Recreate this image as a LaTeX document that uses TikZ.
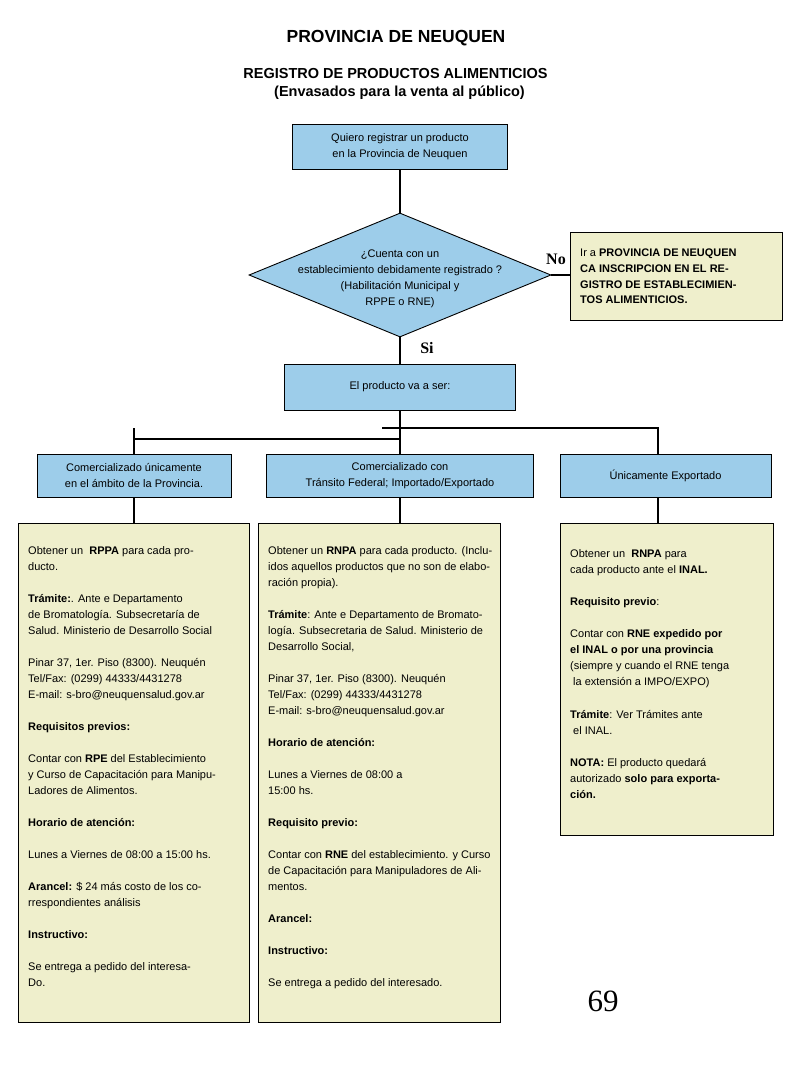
\documentclass[tikz,border=0pt]{standalone}
\usepackage{fontspec}
\setmainfont{Liberation Sans}
\newfontfamily\seriffont{Liberation Serif}
\usetikzlibrary{shapes.geometric,calc}
\definecolor{boxblue}{HTML}{9DCDEA}
\definecolor{boxyel}{HTML}{EFEFCC}
\begin{document}
\begin{tikzpicture}[x=1pt,y=-1pt,
  every node/.style={font=\fontsize{11}{16}\selectfont},
  bluebox/.style={draw=black, fill=boxblue, line width=0.9pt, align=center, inner sep=0pt},
  yelbox/.style={draw=black, fill=boxyel, line width=0.9pt, inner sep=0pt},
  conn/.style={draw=black, line width=1.1pt},
  bodytext/.style={anchor=north west, align=left, inner sep=0pt, font=\fontsize{11}{16}\selectfont},
  titletext/.style={anchor=base, inner sep=0pt, font=\bfseries\fontsize{17.5}{20}\selectfont},
  subtext/.style={anchor=base, inner sep=0pt, font=\bfseries\fontsize{14.5}{18}\selectfont},
  answer/.style={anchor=base, inner sep=0pt, font=\seriffont\bfseries\fontsize{16}{18}\selectfont}]
\useasboundingbox (0,0) rectangle (800,1066);
\fill[white] (0,0) rectangle (800,1066);

% titles
\node[titletext] (title) at (396,42) {PROVINCIA DE NEUQUEN};
\node[subtext] (sub1) at (395.5,78) {REGISTRO DE PRODUCTOS ALIMENTICIOS};
\node[subtext] (sub2) at (399.5,96) {(Envasados para la venta al público)};

% top box
\node[bluebox, minimum width=215, minimum height=45, font=\fontsize{11}{16.5}\selectfont] (b1) at (400,146.5)
  {Quiero registrar un producto\\en la Provincia de Neuquen};

% diamond
\node[diamond, draw=black, fill=boxblue, line width=0.9pt, minimum width=302, minimum height=124, inner sep=0pt] (d) at (400,275) {};
\node[align=center, inner sep=0pt] (dtext) at (400,279)
  {¿Cuenta con un\\establecimiento debidamente registrado ?\\(Habilitación Municipal y\\RPPE o RNE)};

% No box
\node[yelbox, minimum width=212, minimum height=88] (nob) at (676,276) {};
\node[bodytext, font=\fontsize{11}{15.7}\selectfont] (nobtext) at (580,249)
  {Ir a \textbf{PROVINCIA DE NEUQUEN}\\\textbf{CA INSCRIPCION EN EL RE-}\\\textbf{GISTRO DE ESTABLECIMIEN-}\\\textbf{TOS ALIMENTICIOS.}};

\node[answer] (no) at (556,264) {No};
\node[answer] (si) at (427,353) {Si};

% middle box
\node[bluebox, minimum width=231, minimum height=46] (b3) at (400,387) {El producto va a ser:};

% three options
\node[bluebox, minimum width=194, minimum height=43] (b4) at (134,475.5)
  {Comercializado únicamente\\en el ámbito de la Provincia.};
\node[bluebox, minimum width=267, minimum height=43] (b5) at (400,475.5)
  {Comercializado con\\Tránsito Federal; Importado/Exportado};
\node[bluebox, minimum width=211, minimum height=43] (b6) at (665.5,475.5)
  {Únicamente Exportado};

% yellow detail boxes
\node[yelbox, minimum width=231, minimum height=499] (y1) at (133.5,772.5) {};
\node[yelbox, minimum width=242, minimum height=499] (y2) at (379,772.5) {};
\node[yelbox, minimum width=213, minimum height=312] (y3) at (666.5,679) {};

\node[bodytext] (y1text) at (28,546)
  {Obtener un\ \ \textbf{RPPA} para cada pro-\\
   ducto.\\[16pt]
   \textbf{Trámite:}. Ante e Departamento\\
   de Bromatología. Subsecretaría de\\
   Salud. Ministerio de Desarrollo Social\\[16pt]
   Pinar 37, 1er. Piso (8300). Neuquén\\
   Tel/Fax: (0299) 44333/4431278\\
   E-mail: s-bro@neuquensalud.gov.ar\\[16pt]
   \textbf{Requisitos previos:}\\[16pt]
   Contar con \textbf{RPE} del Establecimiento\\
   y Curso de Capacitación para Manipu-\\
   Ladores de Alimentos.\\[16pt]
   \textbf{Horario de atención:}\\[16pt]
   Lunes a Viernes de 08:00 a 15:00 hs.\\[16pt]
   \textbf{Arancel:} \$ 24 más costo de los co-\\
   rrespondientes análisis\\[16pt]
   \textbf{Instructivo:}\\[16pt]
   Se entrega a pedido del interesa-\\
   Do.};

\node[bodytext] (y2text) at (268,546)
  {Obtener un \textbf{RNPA} para cada producto. (Inclu-\\
   idos aquellos productos que no son de elabo-\\
   ración propia).\\[16pt]
   \textbf{Trámite}: Ante e Departamento de Bromato-\\
   logía. Subsecretaria de Salud. Ministerio de\\
   Desarrollo Social,\\[16pt]
   Pinar 37, 1er. Piso (8300). Neuquén\\
   Tel/Fax: (0299) 44333/4431278\\
   E-mail: s-bro@neuquensalud.gov.ar\\[16pt]
   \textbf{Horario de atención:}\\[16pt]
   Lunes a Viernes de 08:00 a\\
   15:00 hs.\\[16pt]
   \textbf{Requisito previo:}\\[16pt]
   Contar con \textbf{RNE} del establecimiento. y Curso\\
   de Capacitación para Manipuladores de Ali-\\
   mentos.\\[16pt]
   \textbf{Arancel:}\\[16pt]
   \textbf{Instructivo:}\\[16pt]
   Se entrega a pedido del interesado.};

\node[bodytext] (y3text) at (570,549)
  {Obtener un\ \ \textbf{RNPA} para\\
   cada producto ante el \textbf{INAL.}\\[16.5pt]
   \textbf{Requisito previo}:\\[16pt]
   Contar con \textbf{RNE expedido por}\\
   \textbf{el INAL o por una provincia}\\
   (siempre y cuando el RNE tenga\\
   \hspace*{3pt}la extensión a IMPO/EXPO)\\[16.5pt]
   \textbf{Trámite}: Ver Trámites ante\\
   \hspace*{3pt}el INAL.\\[16pt]
   \textbf{NOTA:} El producto quedará\\
   autorizado \textbf{solo para exporta-}\\
   \textbf{ción.}};

% page number
\node[anchor=base, inner sep=0pt, font=\seriffont\fontsize{31}{34}\selectfont] (page) at (603,1011) {69};

% connectors
\draw[conn] (b1.south) -- (d.north);
\draw[conn] (d.east) -- (d.east -| nob.west);
\draw[conn] (d.south) -- (b3.north);
\draw[conn] (b3.south) -- (b5.north);
\coordinate (j2) at (382,428);
\coordinate (j1) at (400,439);
\coordinate (t4) at (134,428);
\draw[conn] (j2) -| ([xshift=-7.5pt]b6.north);
\draw[conn] (j1) -- (j1 -| b4.north);
\draw[conn] (t4) -- (b4.north);
\draw[conn] (b4.south) -- (b4.south |- y1.north);
\draw[conn] (b5.south) -- (b5.south |- y2.north);
\draw[conn] ([xshift=-7.5pt]b6.south) coordinate (c6) -- (c6 |- y3.north);
\end{tikzpicture}
\end{document}
